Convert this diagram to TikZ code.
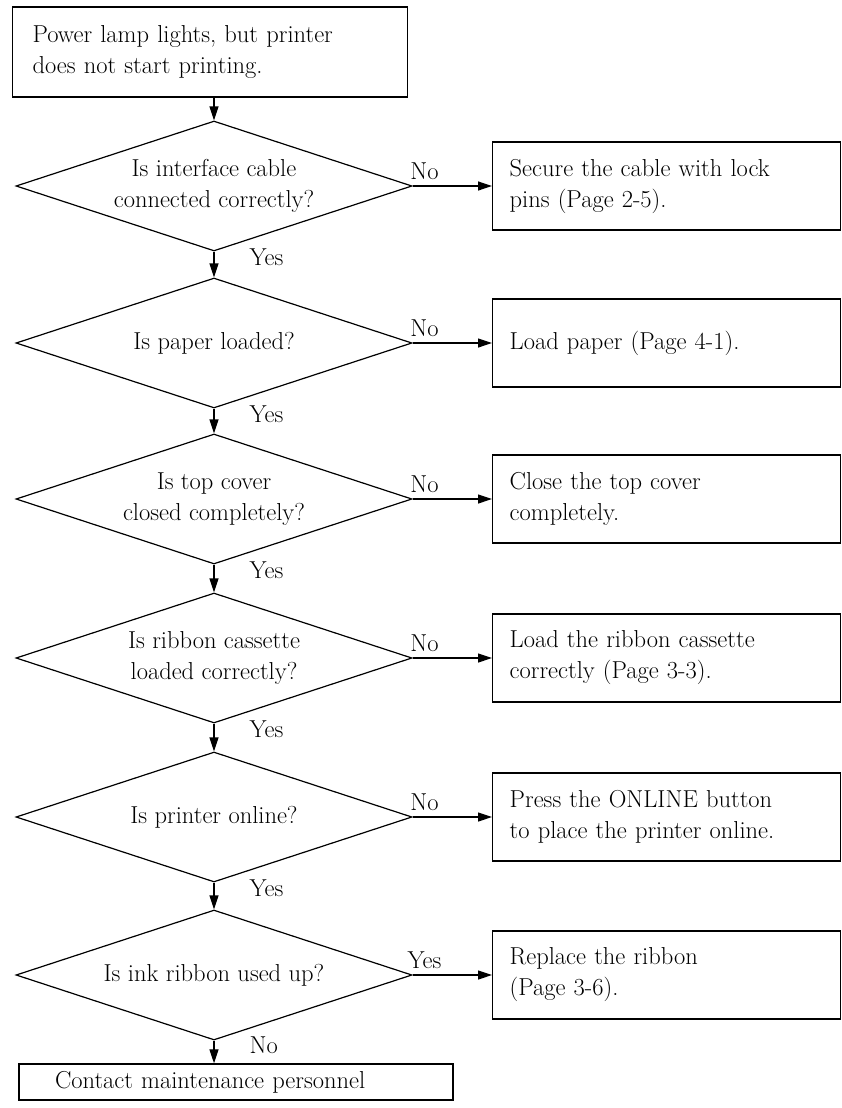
\documentclass[tikz,border=0pt]{standalone}
\usetikzlibrary{arrows.meta,positioning,shapes.geometric}

\begin{document}
\begin{tikzpicture}[x=1pt,y=-1pt,
  every node/.style={font=\fontsize{24.5}{31}\selectfont},
  decision/.style={draw,diamond,aspect=3,inner sep=0pt,minimum width=396pt,minimum height=130pt,align=center,line width=1.2pt},
  startbox/.style={draw,rectangle,text width=355pt,inner xsep=20pt,minimum height=90pt,align=left,line width=1.4pt},
  actbox/.style={draw,rectangle,anchor=west,text width=314pt,inner xsep=17pt,minimum height=88pt,align=left,line width=1.4pt},
  endbox/.style={draw,rectangle,text width=362pt,inner xsep=36pt,minimum height=36pt,align=left,line width=1.4pt},
  arr/.style={-{Triangle[length=14pt,width=9pt]},line width=1.2pt},
  nolbl/.style={above=5pt,pos=0.15,inner sep=1pt},
  yeslbl/.style={right=34pt,pos=0.22,inner sep=1pt}]
  \useasboundingbox (0,0) rectangle (842,1108);

  % Start
  \node[startbox] (start) at (210,52) {Power lamp lights, but printer\\does not start printing.};

  % Checks
  \node[decision] (d1) at (214,186) {Is interface cable\\connected correctly?};
  \node[decision] (d2) at (214,343) {Is paper loaded?};
  \node[decision] (d3) at (214,499) {Is top cover\\closed completely?};
  \node[decision] (d4) at (214,658) {Is ribbon cassette\\loaded correctly?};
  \node[decision] (d5) at (214,817) {Is printer online?};
  \node[decision] (d6) at (214,975) {Is ink ribbon used up?};

  % Remedies
  \node[actbox] (a1) at (492,186) {Secure the cable with lock\\pins (Page 2-5).};
  \node[actbox] (a2) at (492,343) {Load paper (Page 4-1).};
  \node[actbox] (a3) at (492,499) {Close the top cover\\completely.};
  \node[actbox] (a4) at (492,658) {Load the ribbon cassette\\correctly (Page 3-3).};
  \node[actbox] (a5) at (492,817) {Press the ONLINE button\\to place the printer online.};
  \node[actbox] (a6) at (492,975) {Replace the ribbon\\(Page 3-6).};

  % End
  \node[endbox] (stop) at (236,1082) {Contact maintenance personnel};

  % Flow down
  \draw[arr] (d1.north |- start.south) -- (d1.north);
  \draw[arr] (d1.south) -- node[yeslbl] {Yes} (d2.north);
  \draw[arr] (d2.south) -- node[yeslbl] {Yes} (d3.north);
  \draw[arr] (d3.south) -- node[yeslbl] {Yes} (d4.north);
  \draw[arr] (d4.south) -- node[yeslbl] {Yes} (d5.north);
  \draw[arr] (d5.south) -- node[yeslbl] {Yes} (d6.north);
  \draw[arr] (d6.south) -- node[yeslbl] {No} (d6.south |- stop.north);

  % Branches
  \draw[arr] (d1.east) -- node[nolbl] {No} (a1.west);
  \draw[arr] (d2.east) -- node[nolbl] {No} (a2.west);
  \draw[arr] (d3.east) -- node[nolbl] {No} (a3.west);
  \draw[arr] (d4.east) -- node[nolbl] {No} (a4.west);
  \draw[arr] (d5.east) -- node[nolbl] {No} (a5.west);
  \draw[arr] (d6.east) -- node[nolbl] {Yes} (a6.west);
\end{tikzpicture}
\end{document}
